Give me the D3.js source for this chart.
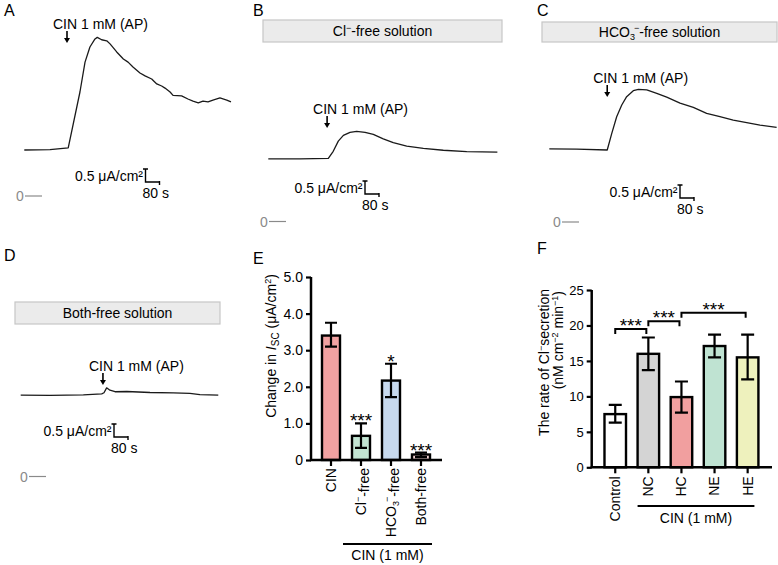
<!DOCTYPE html>
<html><head><meta charset="utf-8">
<script src="https://cdn.jsdelivr.net/npm/d3@7"></script>
<style>
body{margin:0;background:#fff}
svg{display:block;font-family:"Liberation Sans",Arial,Helvetica,sans-serif}
</style>
</head><body>
<svg id="c" width="778" height="565"></svg>
<script>
// ---------------- DATA ----------------
// Isc traces: [time (s), current (µA/cm²)]
const traceA = [[0,1.77],[147,1.78],[251,1.85],[318,4.0],[347,5.15],[375,5.73],[404,6.04],[417,6.10],[442,6.01],[471,5.97],[490,5.85],[528,5.54],[566,5.27],[593,5.15],[621,4.96],[661,4.73],[690,4.62],[728,4.50],[757,4.31],[785,4.23],[804,4.15],[833,4.0],[850,3.87],[899,3.85],[935,3.73],[964,3.65],[994,3.58],[1021,3.65],[1050,3.62],[1078,3.69],[1118,3.77],[1157,3.69],[1181,3.62]];
const traceB = [[0,2.41],[181,2.41],[343,2.43],[371,2.70],[400,3.09],[429,3.31],[467,3.43],[505,3.47],[553,3.43],[600,3.35],[657,3.18],[714,3.03],[791,2.90],[886,2.81],[1000,2.74],[1134,2.69],[1309,2.67]];
const traceC = [[0,2.81],[157,2.80],[331,2.77],[357,3.41],[385,4.05],[414,4.50],[442,4.82],[480,5.05],[509,5.10],[557,5.08],[614,4.95],[671,4.80],[747,4.57],[823,4.41],[899,4.18],[975,4.05],[1051,3.92],[1128,3.82],[1204,3.73],[1299,3.64]];
const traceD = [[0,3.13],[167,3.12],[358,3.14],[463,3.18],[476,3.22],[491,3.41],[510,3.32],[539,3.26],[606,3.27],[739,3.23],[872,3.22],[967,3.20],[1024,3.15],[1129,3.13]];
const additionTimes = [244, 336, 331, 470];
const stimulusLabel = "CIN 1 mM (AP)";
const scaleBarCurrent = 0.5;   // µA/cm²
const scaleBarTime = 80;       // s

// Panel E
const eCategories = ["CIN", "Cl-free", "HCO3-free", "Both-free"];
const eMeans   = [3.40, 0.66, 2.17, 0.15];
const eErrLow  = [3.10, 0.33, 1.72, 0.08];
const eErrHigh = [3.75, 1.00, 2.63, 0.20];
const eStars   = ["", "***", "*", "***"];
const eTicks   = [0, 1, 2, 3, 4, 5];
const eColors  = ["#f2a2a2", "#c2e4d2", "#c7d9ee", "#f3d3d3"];

// Panel F
const fCategories = ["Control", "NC", "HC", "NE", "HE"];
const fMeans   = [7.5, 16.0, 9.9, 17.1, 15.5];
const fErrLow  = [6.3, 13.7, 7.7, 15.5, 12.4];
const fErrHigh = [8.8, 18.3, 12.1, 18.7, 18.7];
const fTicks   = [0, 5, 10, 15, 20, 25];
const fColors  = ["#ffffff", "#d4d4d4", "#f19f9f", "#bfe3d2", "#eef1bd"];
const fComparisons = [["Control", "NC", "***"], ["NC", "HC", "***"], ["HC", "HE", "***"]];

// ---------------- DRAW ----------------
const svg = d3.select("#c");
const FS = 14;

function panelLetter(t, x, y) {
  svg.append("text").attr("x", x).attr("y", y).attr("font-size", 16).text(t);
}

// trace panels layout
const tracePanels = [
  {L:"A", lx:4, ly:16, data:traceA, x0:24.3, zero:196, box:null, zx:16, bar:[145.5,182], arrowTip:43},
  {L:"B", lx:253, ly:16, data:traceB, x0:268.3, zero:221.5, box:[263,20,502,42,"Cl"], zx:260, bar:[365,194], arrowTip:128},
  {L:"C", lx:537, ly:16, data:traceC, x0:549.3, zero:222, box:[542,22,777,42,"HCO"], zx:553, bar:[680,198], arrowTip:97},
  {L:"D", lx:4, ly:261, data:traceD, x0:20.7, zero:476.5, box:[15,302,220,324,"Both"], zx:20, bar:[114,437], arrowTip:385}
];

tracePanels.forEach((p, i) => {
  panelLetter(p.L, p.lx, p.ly);
  const x = d3.scaleLinear().domain([0, scaleBarTime]).range([p.x0, p.x0 + 14]);
  const y = d3.scaleLinear().domain([0, scaleBarCurrent]).range([p.zero, p.zero - 13]);
  const g = svg.append("g");

  if (p.box) {
    const [bx1, by1, bx2, by2, kind] = p.box;
    g.append("rect").attr("x", bx1).attr("y", by1).attr("width", bx2 - bx1).attr("height", by2 - by1)
      .attr("fill", "#ebebeb").attr("stroke", "#c6c6c6").attr("stroke-width", 1.2);
    const t = g.append("text").attr("x", (bx1 + bx2) / 2).attr("y", (by1 + by2) / 2 + 5)
      .attr("text-anchor", "middle").attr("font-size", FS);
    if (kind === "Cl") {
      t.append("tspan").text("Cl");
      t.append("tspan").attr("font-size", 9).attr("dy", -5).text("−");
      t.append("tspan").attr("dy", 5).text("-free solution");
    } else if (kind === "HCO") {
      t.append("tspan").text("HCO");
      t.append("tspan").attr("font-size", 9).attr("dy", 3).text("3");
      t.append("tspan").attr("font-size", 9).attr("dy", -9).attr("dx", -1).text("−");
      t.append("tspan").attr("dy", 6).text("-free solution");
    } else {
      t.text("Both-free solution");
    }
  }

  g.append("path").datum(p.data)
    .attr("d", d3.line().x(d => x(d[0])).y(d => y(d[1])))
    .attr("fill", "none").attr("stroke", "#1a1a1a").attr("stroke-width", 1.3)
    .attr("stroke-linejoin", "round");

  // arrow + stimulus label
  const ax = x(additionTimes[i]);
  const ay2 = p.arrowTip, ay1 = ay2 - 12;
  g.append("line").attr("x1", ax).attr("x2", ax).attr("y1", ay1).attr("y2", ay2 - 4)
    .attr("stroke", "#000").attr("stroke-width", 1.6);
  g.append("path").attr("d", `M${ax - 3},${ay2 - 5}L${ax + 3},${ay2 - 5}L${ax},${ay2}Z`).attr("fill", "#000");
  g.append("text").attr("x", ax - 14).attr("y", ay1 - 2.5).attr("font-size", FS).text(stimulusLabel);

  // scale bar
  const [cx, cy] = p.bar;
  const vh = y(0) - y(scaleBarCurrent);
  const hw = x(scaleBarTime) - x(0);
  g.append("path").attr("d", `M${cx - 2.5},${cy - vh}H${cx + 2.5}M${cx},${cy - vh}V${cy}H${cx + hw}M${cx + hw},${cy - 1}V${cy + 3}`)
    .attr("fill", "none").attr("stroke", "#000").attr("stroke-width", 1.4);
  g.append("text").attr("x", cx - 2.5).attr("y", cy - 1).attr("text-anchor", "end").attr("font-size", FS).text("0.5 μA/cm²");
  g.append("text").attr("x", cx - 3).attr("y", cy + 15.5).attr("font-size", FS).text("80 s");

  g.append("text").attr("x", p.zx).attr("y", y(0) + 5).attr("font-size", FS).attr("fill", "#8a8a8a").text("0");
  g.append("line").attr("x1", p.zx + 9).attr("x2", p.zx + 26).attr("y1", y(0)).attr("y2", y(0))
    .attr("stroke", "#8a8a8a").attr("stroke-width", 1.2);
});

// ---------- Panel E ----------
panelLetter("E", 253, 264);
(function () {
  const y = d3.scaleLinear().domain([0, 5]).range([460, 277]);
  const x = d3.scaleBand().domain(eCategories).range([316, 436]).paddingInner(0.4).paddingOuter(0.2);
  const g = svg.append("g");
  const ax = 311, ay = 460, axEnd = 442;

  const yAxis = g.append("g").attr("transform", `translate(${ax},0)`)
    .call(d3.axisLeft(y).tickValues(eTicks).tickSize(5).tickPadding(3)
      .tickFormat(d => d === 0 ? "0" : d3.format(".1f")(d)));
  yAxis.select(".domain").attr("stroke-width", 2.5).attr("d", `M-0,${y(5)}V${y(0)}`);
  yAxis.selectAll(".tick line").attr("stroke-width", 2.2);
  yAxis.selectAll("text").attr("font-size", FS).attr("font-family", "Liberation Sans, Arial, sans-serif").attr("fill", "#000");

  eCategories.forEach((c, i) => {
    g.append("rect").attr("x", x(c)).attr("y", y(eMeans[i])).attr("width", x.bandwidth())
      .attr("height", y(0) - y(eMeans[i])).attr("fill", eColors[i]).attr("stroke", "#000").attr("stroke-width", 2.4);
    const cx = x(c) + x.bandwidth() / 2;
    g.append("path").attr("d", `M${cx},${y(eErrLow[i])}V${y(eErrHigh[i])}M${cx - 6},${y(eErrLow[i])}H${cx + 6}M${cx - 6},${y(eErrHigh[i])}H${cx + 6}`)
      .attr("stroke", "#000").attr("stroke-width", 2.2).attr("fill", "none");
    if (eStars[i]) g.append("text").attr("x", cx).attr("y", y(eErrHigh[i]) + 4)
      .attr("text-anchor", "middle").attr("font-size", 19).text(eStars[i]);
    g.append("line").attr("x1", cx).attr("x2", cx).attr("y1", ay).attr("y2", ay + 6).attr("stroke", "#000").attr("stroke-width", 2.2);
    const t = g.append("text").attr("transform", `translate(${cx},${ay + 8}) rotate(-90)`)
      .attr("text-anchor", "end").attr("dy", "0.35em").attr("font-size", FS);
    if (c === "Cl-free") {
      t.append("tspan").text("Cl");
      t.append("tspan").attr("font-size", 9).attr("dy", "-0.6em").text("−");
      t.append("tspan").attr("dy", "0.6em").text("-free");
    } else if (c === "HCO3-free") {
      t.append("tspan").text("HCO");
      t.append("tspan").attr("font-size", 9).attr("dy", "0.35em").text("3");
      t.append("tspan").attr("font-size", 9).attr("dy", "-1em").attr("dx", -1).text("−");
      t.append("tspan").attr("dy", "0.65em").text("-free");
    } else t.text(c);
  });
  g.append("line").attr("x1", ax - 1).attr("x2", axEnd).attr("y1", ay).attr("y2", ay).attr("stroke", "#000").attr("stroke-width", 2.5);

  const gx1 = x(eCategories[1]) - 9, gx2 = x(eCategories[3]) + x.bandwidth() + 2;
  g.append("line").attr("x1", gx1).attr("x2", gx2).attr("y1", 544).attr("y2", 544).attr("stroke", "#000").attr("stroke-width", 1.8);
  g.append("text").attr("x", (gx1 + gx2) / 2).attr("y", 560).attr("text-anchor", "middle").attr("font-size", FS).text("CIN (1 mM)");

  const yl = g.append("text").attr("transform", `translate(276,346) rotate(-90)`).attr("text-anchor", "middle").attr("font-size", FS);
  yl.append("tspan").text("Change in  ");
  yl.append("tspan").attr("font-style", "italic").text("I");
  yl.append("tspan").attr("font-size", 10).attr("dy", 3).text("SC");
  yl.append("tspan").attr("dy", -3).text(" (μA/cm");
  yl.append("tspan").attr("font-size", 9).attr("dy", -5).text("2");
  yl.append("tspan").attr("dy", 5).text(")");
})();

// ---------- Panel F ----------
panelLetter("F", 537, 254);
(function () {
  const y = d3.scaleLinear().domain([0, 25]).range([467.3, 290]);
  const x = d3.scaleBand().domain(fCategories).range([592.9, 770]).paddingInner(0.35).paddingOuter(0.35);
  const g = svg.append("g");
  const ax = 591.7, ay = 467.3, axEnd = 772;
  const cxOf = c => x(c) + x.bandwidth() / 2;

  const yAxis = g.append("g").attr("transform", `translate(${ax},0)`)
    .call(d3.axisLeft(y).tickValues(fTicks).tickSize(5).tickPadding(3));
  yAxis.select(".domain").attr("stroke-width", 2.5).attr("d", `M-0,${y(25)}V${y(0)}`);
  yAxis.selectAll(".tick line").attr("stroke-width", 2.2);
  yAxis.selectAll("text").attr("font-size", 13).attr("font-family", "Liberation Sans, Arial, sans-serif").attr("fill", "#000");

  fCategories.forEach((c, i) => {
    g.append("rect").attr("x", x(c)).attr("y", y(fMeans[i])).attr("width", x.bandwidth())
      .attr("height", y(0) - y(fMeans[i])).attr("fill", fColors[i]).attr("stroke", "#000").attr("stroke-width", 2.4);
    const cx = cxOf(c);
    g.append("path").attr("d", `M${cx},${y(fErrLow[i])}V${y(fErrHigh[i])}M${cx - 6.5},${y(fErrLow[i])}H${cx + 6.5}M${cx - 6.5},${y(fErrHigh[i])}H${cx + 6.5}`)
      .attr("stroke", "#000").attr("stroke-width", 2.2).attr("fill", "none");
    g.append("line").attr("x1", cx).attr("x2", cx).attr("y1", ay).attr("y2", ay + 6).attr("stroke", "#000").attr("stroke-width", 2.2);
    g.append("text").attr("transform", `translate(${cx},${ay + 9}) rotate(-90)`)
      .attr("text-anchor", "end").attr("dy", "0.35em").attr("font-size", FS).text(c);
  });
  g.append("line").attr("x1", ax - 1).attr("x2", axEnd).attr("y1", ay).attr("y2", ay).attr("stroke", "#000").attr("stroke-width", 2.5);

  const bracketLevels = [19.5, 20.6, 21.8];
  fComparisons.forEach(([a, b, s], k) => {
    const x1 = cxOf(a), x2 = cxOf(b) - 2, by = y(bracketLevels[k]);
    g.append("path").attr("d", `M${x1},${by + 5}V${by}H${x2}V${by + 5}`)
      .attr("fill", "none").attr("stroke", "#000").attr("stroke-width", 2);
    g.append("text").attr("x", (x1 + x2) / 2).attr("y", by + 3).attr("text-anchor", "middle").attr("font-size", 19).text(s);
  });

  const gx1 = x("NC"), gx2 = x("HE") + x.bandwidth() - 4;
  g.append("line").attr("x1", gx1).attr("x2", gx2).attr("y1", 506).attr("y2", 506).attr("stroke", "#000").attr("stroke-width", 1.8);
  g.append("text").attr("x", (gx1 + gx2) / 2).attr("y", 523).attr("text-anchor", "middle").attr("font-size", FS).text("CIN (1 mM)");

  const l1 = g.append("text").attr("transform", `translate(549,289) rotate(-90)`).attr("text-anchor", "end").attr("font-size", FS);
  l1.append("tspan").text("The rate of Cl");
  l1.append("tspan").attr("font-size", 9).attr("dy", -5).text("−");
  l1.append("tspan").attr("dy", 5).text("secretion");
  const l2 = g.append("text").attr("transform", `translate(563,291) rotate(-90)`).attr("text-anchor", "end").attr("font-size", FS);
  l2.append("tspan").text("(nM cm");
  l2.append("tspan").attr("font-size", 9).attr("dy", -5).text("−2");
  l2.append("tspan").attr("dy", 5).text(" min");
  l2.append("tspan").attr("font-size", 9).attr("dy", -5).text("−1");
  l2.append("tspan").attr("dy", 5).text(")");
})();
</script>
</body></html>
